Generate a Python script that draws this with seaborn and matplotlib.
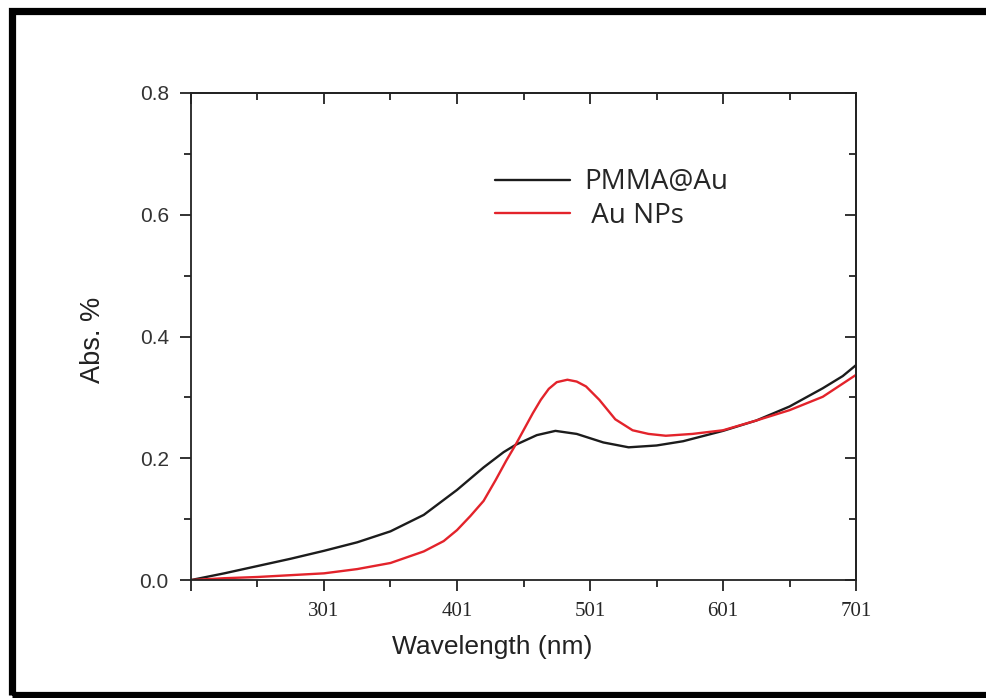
import numpy as np
import pandas as pd
import matplotlib
matplotlib.use("Agg")
import matplotlib.pyplot as plt
from matplotlib.patches import Rectangle
from matplotlib.ticker import FixedLocator, MultipleLocator
import seaborn as sns

# values
wl_pmma = [201, 226, 251, 276, 301, 326, 351, 376, 401, 421, 436, 445, 461, 475,
           491, 511, 530, 551, 571, 601, 626, 651, 666, 676, 691, 701]
abs_pmma = [0.000, 0.011, 0.023, 0.035, 0.048, 0.062, 0.080, 0.107, 0.148, 0.185,
            0.210, 0.222, 0.238, 0.245, 0.240, 0.226, 0.218, 0.221, 0.228, 0.245,
            0.262, 0.285, 0.303, 0.315, 0.335, 0.353]

wl_au = [201, 226, 251, 276, 301, 326, 351, 376, 391, 401, 411, 421, 430, 438,
         445, 452, 458, 464, 470, 476, 484, 491, 498, 508, 520, 533, 545, 558,
         578, 601, 626, 651, 676, 701]
abs_au = [0.000, 0.003, 0.005, 0.008, 0.011, 0.018, 0.028, 0.047, 0.064, 0.082,
          0.105, 0.130, 0.164, 0.196, 0.222, 0.250, 0.274, 0.296, 0.314, 0.325,
          0.329, 0.326, 0.318, 0.296, 0.264, 0.246, 0.240, 0.237, 0.240, 0.246,
          0.262, 0.279, 0.301, 0.337]

x_ticks = [201, 301, 401, 501, 601, 701]
x_labels = ["", "301", "401", "501", "601", "701"]
x_minor = [251, 351, 451, 551, 651]
y_ticks = [0.0, 0.2, 0.4, 0.6, 0.8]

df_pmma = pd.DataFrame({"wl": wl_pmma, "abs": abs_pmma})
df_au = pd.DataFrame({"wl": wl_au, "abs": abs_au})

sns.set_style("ticks")
plt.rcParams["font.family"] = ["Liberation Sans", "DejaVu Sans"]

ink = "#222222"
fig = plt.figure(figsize=(9.87, 6.98), dpi=100)
ax = fig.add_axes([0.1935, 0.169, 0.6738, 0.6978])

sns.lineplot(ax=ax, data=df_pmma, x="wl", y="abs", color="#1c1c1c", lw=1.7,
             label="PMMA@Au")
sns.lineplot(ax=ax, data=df_au, x="wl", y="abs", color="#e3232b", lw=1.7,
             label=" Au NPs")

ax.set_xlim(201, 701)
ax.set_ylim(0, 0.8)

ax.xaxis.set_major_locator(FixedLocator(x_ticks))
ax.set_xticklabels(x_labels, fontfamily="Liberation Serif", fontsize=15)
ax.xaxis.set_minor_locator(FixedLocator(x_minor))
ax.set_yticks(y_ticks)
ax.set_yticklabels([f"{v:.1f}" for v in y_ticks], fontsize=15, color="#333333")
ax.yaxis.set_minor_locator(MultipleLocator(0.1))

for s in ax.spines.values():
    s.set_linewidth(1.3)
    s.set_color(ink)

ax.tick_params(which="major", length=8, width=1.3, color=ink, pad=8,
               direction="out", top=False, right=False)
ax.tick_params(which="minor", length=5, width=1.3, color=ink,
               direction="out", top=False, right=False)

# Origin style: top and right ticks point inwards
secx = ax.secondary_xaxis("top")
secx.set_xticks(x_ticks)
secx.xaxis.set_minor_locator(FixedLocator(x_minor))
secx.tick_params(which="major", length=8, width=1.3, color=ink, direction="in",
                 labeltop=False)
secx.tick_params(which="minor", length=5, width=1.3, color=ink, direction="in")
secx.spines["top"].set_linewidth(1.3)
secx.spines["top"].set_color(ink)

secy = ax.secondary_yaxis("right")
secy.set_yticks(y_ticks)
secy.yaxis.set_minor_locator(MultipleLocator(0.1))
secy.tick_params(which="major", length=8, width=1.3, color=ink, direction="in",
                 labelright=False)
secy.tick_params(which="minor", length=5, width=1.3, color=ink, direction="in")
secy.spines["right"].set_linewidth(1.3)
secy.spines["right"].set_color(ink)

ax.set_xlabel("Wavelength (nm)", fontsize=19, color=ink)
ax.set_ylabel("Abs. %", fontsize=19.5, color=ink)
ax.xaxis.set_label_coords(0.453, -0.112)
ax.yaxis.set_label_coords(-0.128, 0.493)

ax.legend(loc="upper left", bbox_to_anchor=(0.457, 0.845), frameon=False,
          handlelength=2.7, handletextpad=0.5, labelspacing=0.2,
          borderpad=0, borderaxespad=0, prop={"family": "Open Sans", "size": 20})

# thick outer frame (cut off on the right like the reference)
fig.patches.append(Rectangle((12.5 / 987, 3.5 / 698), 1.0, 1 - 14 / 698,
                             transform=fig.transFigure, fill=False,
                             edgecolor="black", linewidth=5.2, clip_on=False))

fig.savefig("out.png", dpi=100, facecolor="white")
